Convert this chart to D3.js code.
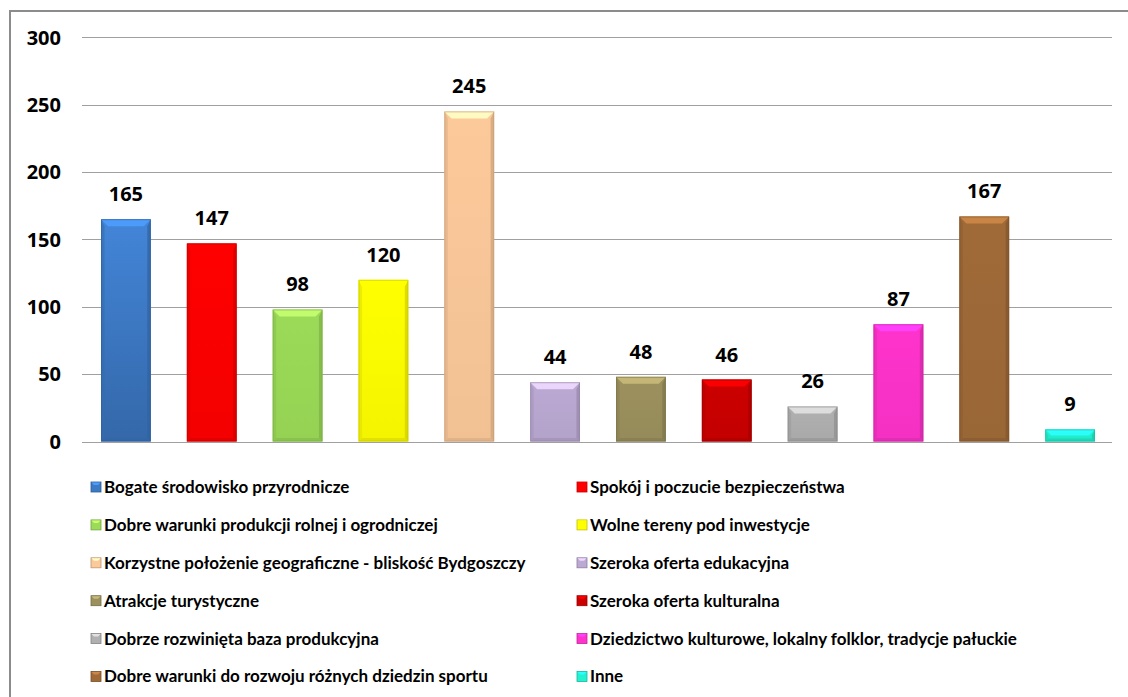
<!DOCTYPE html>
<html lang="pl">
<head>
<meta charset="utf-8">
<title>Atuty gminy</title>
<script src="https://d3js.org/d3.v7.min.js"></script>
<style>
  body { margin: 0; background: #fff; }
  svg { display: block; }
  .tick-label, .value-label { font-family: "Open Sans", sans-serif; font-weight: bold; font-size: 20px; fill: #000; }
  .legend-label { font-family: Lato, sans-serif; font-weight: bold; font-size: 17px; fill: #000; }
</style>
</head>
<body>
<script>
// chart values
var categories = [
  "Bogate środowisko przyrodnicze",
  "Spokój i poczucie bezpieczeństwa",
  "Dobre warunki produkcji rolnej i ogrodniczej",
  "Wolne tereny pod inwestycje",
  "Korzystne położenie geograficzne - bliskość Bydgoszczy",
  "Szeroka oferta edukacyjna",
  "Atrakcje turystyczne",
  "Szeroka oferta kulturalna",
  "Dobrze rozwinięta baza produkcyjna",
  "Dziedzictwo kulturowe, lokalny folklor, tradycje pałuckie",
  "Dobre warunki do rozwoju różnych dziedzin sportu",
  "Inne"
];
var values = [165, 147, 98, 120, 245, 44, 48, 46, 26, 87, 167, 9];
var colors = ["#3d7ac6", "#ff0000", "#9bdb58", "#ffff00", "#fcc99a", "#bba9d3",
              "#9c915e", "#cc0000", "#b0b0b0", "#ff33cc", "#a06a38", "#22f2d0"];
var yTicks = [0, 50, 100, 150, 200, 250, 300];

var width = 1128, height = 697;

var svg = d3.select("body").append("svg")
  .attr("width", width)
  .attr("height", height);

var defs = svg.append("defs");

// frame of the original chart area
svg.append("line").attr("x1", 10).attr("x2", width).attr("y1", 11).attr("y2", 11)
  .attr("stroke", "#8c8c8c").attr("stroke-width", 2);
svg.append("line").attr("x1", 10).attr("x2", 10).attr("y1", 10).attr("y2", height)
  .attr("stroke", "#8c8c8c").attr("stroke-width", 2);

var x = d3.scaleBand()
  .domain(categories)
  .range([83, 1113])
  .paddingInner(0.42)
  .paddingOuter(0.21);

var y = d3.scaleLinear()
  .domain([0, 300])
  .range([441.5, 37.3]);

// gridlines
svg.append("g").selectAll("line")
  .data(yTicks)
  .enter().append("line")
  .attr("x1", 82).attr("x2", 1112)
  .attr("y1", function(d) { return Math.round(y(d)) + 0.5; })
  .attr("y2", function(d) { return Math.round(y(d)) + 0.5; })
  .attr("stroke", "#a0a0a0")
  .attr("stroke-width", 1);

// y axis labels
svg.append("g").selectAll("text")
  .data(yTicks)
  .enter().append("text")
  .attr("class", "tick-label")
  .attr("x", 61)
  .attr("y", function(d) { return y(d); })
  .attr("dy", "0.36em")
  .attr("text-anchor", "end")
  .text(function(d) { return d; });

// gradients for bars
colors.forEach(function(c, i) {
  var g = defs.append("linearGradient")
    .attr("id", "grad" + i)
    .attr("x1", 0).attr("y1", 0).attr("x2", 0).attr("y2", 1);
  var top = i === 0 ? d3.color(c).brighter(0.25) : d3.color(c);
  var bottom = i === 0 ? d3.color(c).darker(0.45) : d3.color(c).darker(0.12);
  g.append("stop").attr("offset", "0%").attr("stop-color", top);
  g.append("stop").attr("offset", "100%").attr("stop-color", bottom);
});

var bev = 7;
var bars = svg.append("g").selectAll("g")
  .data(values)
  .enter().append("g");

bars.each(function(v, i) {
  var g = d3.select(this);
  var x0 = x(categories[i]), w = x.bandwidth();
  var y0 = y(v), y1 = y(0);
  var b = Math.min(bev, (y1 - y0) / 2);
  var c = d3.color(colors[i]);
  g.append("rect")
    .attr("x", x0).attr("y", y0).attr("width", w).attr("height", y1 - y0)
    .attr("fill", "url(#grad" + i + ")");
  // top bevel
  g.append("polygon")
    .attr("points", [[x0, y0], [x0 + w, y0], [x0 + w - b, y0 + b], [x0 + b, y0 + b]].join(" "))
    .attr("fill", c.brighter(0.7)).attr("opacity", 0.9);
  // left bevel
  g.append("polygon")
    .attr("points", [[x0, y0], [x0 + b * 0.5, y0 + b], [x0 + b * 0.5, y1 - b * 0.5], [x0, y1]].join(" "))
    .attr("fill", c.darker(0.35)).attr("opacity", 0.6);
  // right bevel
  g.append("polygon")
    .attr("points", [[x0 + w, y0], [x0 + w - b * 0.5, y0 + b], [x0 + w - b * 0.5, y1 - b * 0.5], [x0 + w, y1]].join(" "))
    .attr("fill", c.darker(0.6)).attr("opacity", 0.7);
  // bottom bevel
  g.append("polygon")
    .attr("points", [[x0, y1], [x0 + b * 0.5, y1 - b * 0.5], [x0 + w - b * 0.5, y1 - b * 0.5], [x0 + w, y1]].join(" "))
    .attr("fill", c.darker(0.5)).attr("opacity", 0.6);
  g.append("rect")
    .attr("x", x0 + 0.5).attr("y", y0 + 0.5).attr("width", w - 1).attr("height", y1 - y0 - 1)
    .attr("fill", "none")
    .attr("stroke", c.darker(0.7)).attr("stroke-opacity", 0.6);
});

// value labels
svg.append("g").selectAll("text")
  .data(values)
  .enter().append("text")
  .attr("class", "value-label")
  .attr("x", function(d, i) { return x(categories[i]) + x.bandwidth() / 2; })
  .attr("y", function(d) { return y(d) - 18; })
  .attr("text-anchor", "middle")
  .text(function(d) { return d; });

// legend
var legendX = [91, 577], legendY0 = 487, legendStep = 37.9;
var items = svg.append("g").selectAll("g")
  .data(categories)
  .enter().append("g")
  .attr("transform", function(d, i) {
    return "translate(" + legendX[i % 2] + "," + (legendY0 + Math.floor(i / 2) * legendStep) + ")";
  });

items.append("rect")
  .attr("x", 0).attr("y", -5).attr("width", 10).attr("height", 10)
  .attr("fill", function(d, i) { return colors[i]; })
  .attr("stroke", function(d, i) { return d3.color(colors[i]).darker(0.8); })
  .attr("stroke-width", 0.8);
items.append("polygon")
  .attr("points", "0.5,-4.5 9.5,-4.5 7,-2 3,-2")
  .attr("fill", function(d, i) { return d3.color(colors[i]).brighter(0.7); });

items.append("text")
  .attr("class", "legend-label")
  .attr("x", 13)
  .attr("dy", "0.35em")
  .text(function(d) { return d; });
</script>
</body>
</html>
